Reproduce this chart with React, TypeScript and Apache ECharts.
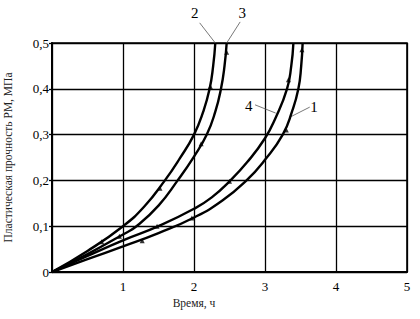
import React, { useEffect, useRef } from "react";
import * as echarts from "echarts";

// curve data: [time (h), plastic strength (MPa)]
const curve1: [number, number][] = [
  [0, 0], [0.5, 0.028], [1, 0.056], [1.5, 0.085], [2, 0.119], [2.4, 0.156],
  [2.74, 0.2], [3.0, 0.245], [3.25, 0.3], [3.38, 0.35], [3.47, 0.4], [3.51, 0.45], [3.53, 0.5],
];
const curve2: [number, number][] = [
  [0, 0], [0.5, 0.046], [1, 0.1], [1.3, 0.143], [1.59, 0.2], [1.8, 0.248], [2.0, 0.3],
  [2.13, 0.35], [2.22, 0.4], [2.27, 0.45], [2.3, 0.5],
];
const curve3: [number, number][] = [
  [0, 0], [0.5, 0.039], [1, 0.082], [1.19, 0.1], [1.5, 0.145], [1.77, 0.2], [2.0, 0.252],
  [2.18, 0.3], [2.3, 0.35], [2.38, 0.4], [2.43, 0.45], [2.46, 0.5],
];
const curve4: [number, number][] = [
  [0, 0], [0.5, 0.035], [1, 0.069], [1.5, 0.1], [2, 0.138], [2.25, 0.163], [2.5, 0.198],
  [2.75, 0.24], [3.0, 0.292], [3.15, 0.337], [3.31, 0.4], [3.37, 0.45], [3.4, 0.5],
];

const markers1: [number, number][] = [[1.27, 0.068], [1.97, 0.118], [3.3, 0.31], [3.52, 0.485]];
const markers2: [number, number][] = [[0.7, 0.066], [1.52, 0.183], [2.23, 0.405]];
const markers3: [number, number][] = [[0.95, 0.078], [2.1, 0.28], [2.46, 0.48]];
const markers4: [number, number][] = [[1.48, 0.1], [2.5, 0.198], [3.33, 0.42]];

// curve labels: text, text position, leader start, leader end (data coords)
const curveLabels = [
  { text: "2", at: [2.01, 0.565], from: [2.08, 0.544], to: [2.3, 0.5] },
  { text: "3", at: [2.68, 0.565], from: [2.65, 0.546], to: [2.46, 0.5] },
  { text: "4", at: [2.77, 0.362], from: [2.86, 0.365], to: [3.15, 0.347] },
  { text: "1", at: [3.69, 0.36], from: [3.63, 0.36], to: [3.35, 0.338] },
];

const yTicks = [0, 0.1, 0.2, 0.3, 0.4, 0.5];
const xTicks = [0, 1, 2, 3, 4, 5];
const xTitle = "Время, ч";
const yTitle = "Пластическая прочность РМ, МПа";

const FONT = "Liberation Serif";

export default function App() {
  const ref = useRef<HTMLDivElement>(null);
  useEffect(() => {
    if (!ref.current) return;
    const chart = echarts.init(ref.current, null, { renderer: "svg" });
    const lineSeries = (data: [number, number][]) => ({
      type: "line",
      data,
      smooth: 0.5,
      showSymbol: false,
      lineStyle: { color: "#000", width: 2.4 },
      clip: false,
    });
    const markSeries = (data: [number, number][]) => ({
      type: "scatter",
      data,
      symbol: "triangle",
      symbolSize: 5,
      itemStyle: { color: "#000" },
    });
    chart.setOption({
      animation: false,
      grid: { left: 52, right: 13, top: 43, bottom: 47, outerBoundsMode: "none", containLabel: false },
      xAxis: {
        type: "value",
        min: xTicks[0],
        max: xTicks[xTicks.length - 1],
        interval: 1,
        axisLine: { show: true, onZero: false, lineStyle: { color: "#000", width: 2 } },
        axisTick: { show: false },
        axisLabel: {
          color: "#000",
          fontFamily: FONT,
          fontSize: 13,
          margin: 8,
          formatter: (v: number) => (v === 0 ? "" : String(v)),
        },
        splitLine: { show: true, lineStyle: { color: "#000", width: 1.3 } },
      },
      yAxis: {
        type: "value",
        min: yTicks[0],
        max: yTicks[yTicks.length - 1],
        interval: 0.1,
        name: yTitle,
        nameLocation: "middle",
        nameGap: 38,
        nameTextStyle: { color: "#222", fontFamily: FONT, fontSize: 11.5 },
        axisLine: { show: true, onZero: false, lineStyle: { color: "#000", width: 2 } },
        axisTick: { show: true, length: 3, lineStyle: { color: "#000", width: 1.3 } },
        axisLabel: {
          color: "#000",
          fontFamily: FONT,
          fontSize: 13,
          margin: 3,
          formatter: (v: number) => (v === 0 ? "0" : v.toFixed(1).replace(".", ",")),
        },
        splitLine: { show: true, lineStyle: { color: "#000", width: 1.3 } },
      },
      series: [
        lineSeries(curve1),
        lineSeries(curve2),
        lineSeries(curve3),
        lineSeries(curve4),
        markSeries(markers1),
        markSeries(markers2),
        markSeries(markers3),
        markSeries(markers4),
      ],
    });
    const tl = chart.convertToPixel({ gridIndex: 0 }, [0, 0.5]) as number[];
    const br = chart.convertToPixel({ gridIndex: 0 }, [5, 0]) as number[];
    const graphics: any[] = [
      {
        type: "rect",
        shape: { x: tl[0], y: tl[1], width: br[0] - tl[0], height: br[1] - tl[1] },
        style: { fill: "none", stroke: "#000", lineWidth: 1.6 },
        silent: true,
      },
    ];
    const xt = chart.convertToPixel({ gridIndex: 0 }, [2, 0]) as number[];
    graphics.push({
      type: "text",
      x: xt[0],
      y: xt[1] + 31,
      style: { text: xTitle, fill: "#222", font: `11.5px "${FONT}"`, align: "center", verticalAlign: "middle" },
    });
    curveLabels.forEach((l) => {
      const p = chart.convertToPixel({ gridIndex: 0 }, l.at) as number[];
      const a = chart.convertToPixel({ gridIndex: 0 }, l.from) as number[];
      const b = chart.convertToPixel({ gridIndex: 0 }, l.to) as number[];
      graphics.push({
        type: "line",
        shape: { x1: a[0], y1: a[1], x2: b[0], y2: b[1] },
        style: { stroke: "#555", lineWidth: 0.8 },
      });
      graphics.push({
        type: "text",
        x: p[0],
        y: p[1],
        style: { text: l.text, fill: "#000", font: `15px "${FONT}"`, align: "center", verticalAlign: "middle" },
      });
    });
    chart.setOption({ graphic: graphics });
    return () => chart.dispose();
  }, []);
  return <div ref={ref} style={{ width: 420, height: 319, position: "absolute", left: 0, top: 0 }} />;
}
